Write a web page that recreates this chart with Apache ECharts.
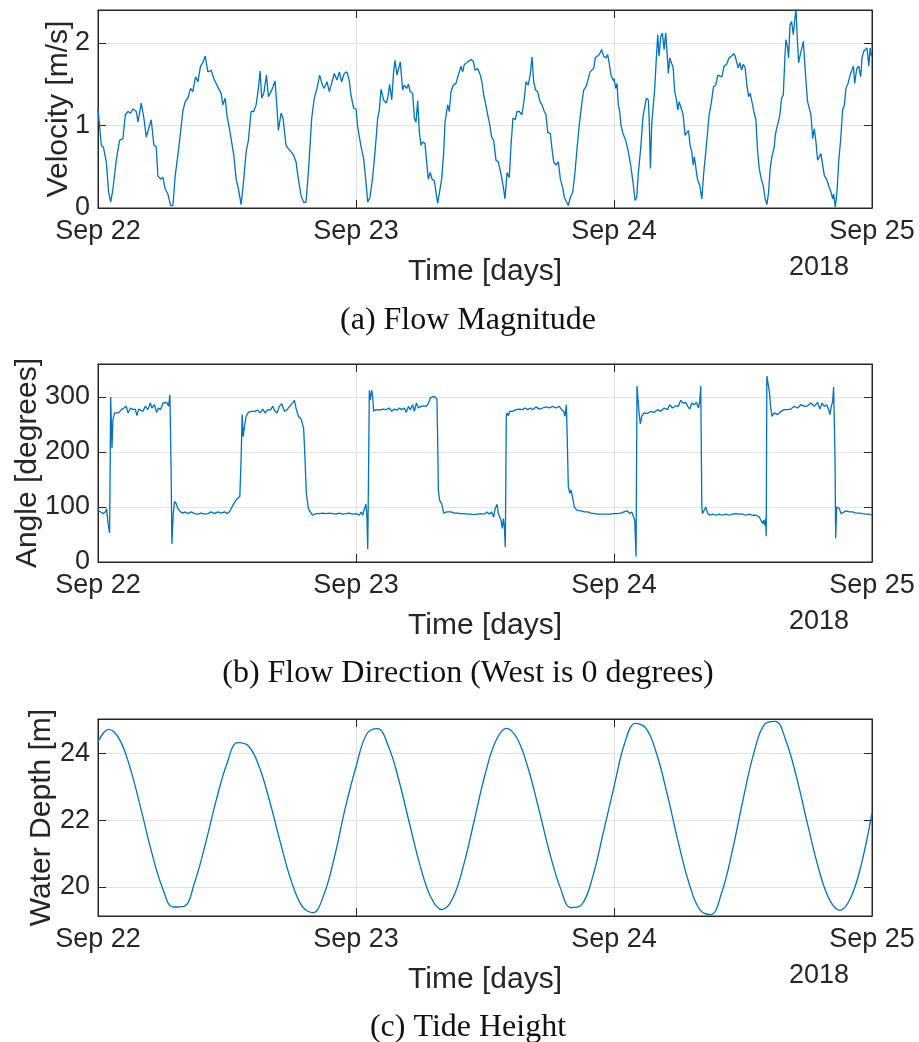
<!DOCTYPE html>
<html>
<head>
<meta charset="utf-8">
<script src="https://cdn.jsdelivr.net/npm/echarts@6/dist/echarts.min.js"></script>
<style>
  html, body { margin: 0; padding: 0; background: #fff; }
  #main { width: 919px; height: 1042px; }
</style>
</head>
<body>
<div id="main"></div>
<script>
// x values are hours after Sep 22 00:00, 2018
var dayLabels = ['Sep 22', 'Sep 23', 'Sep 24', 'Sep 25'];
var yearLabel = '2018';

// (a) flow magnitude [m/s], [hour, value]
var velSep22 = [[0,1.2],[0.31,0.76],[0.5,0.74],[0.77,0.56],[0.99,0.19],[1.18,0.07],[1.39,0.23],[1.7,0.58],[2.01,0.82],[2.32,0.84],[2.54,1.13],[2.79,1.17],[3.03,1.15],[3.25,1.2],[3.56,1.17],[3.72,1.04],[4.02,1.27],[4.27,1.09],[4.49,0.86],[4.71,0.96],[4.95,1.07],[5.2,0.76],[5.42,0.74],[5.57,0.39],[5.82,0.35],[6.04,0.37],[6.25,0.23],[6.5,0.17],[6.75,0.03],[6.97,0.03],[7.18,0.39],[7.43,0.64],[7.68,0.92],[7.89,1.17],[8.11,1.29],[8.36,1.33],[8.61,1.45],[8.82,1.41],[9.07,1.59],[9.29,1.53],[9.54,1.72],[9.75,1.76],[9.97,1.84],[10.22,1.65],[10.53,1.67],[10.77,1.57],[10.99,1.51],[11.21,1.45],[11.46,1.39],[11.61,1.25],[11.83,1.33],[12.01,1.11],[12.23,0.96],[12.38,0.84],[12.63,0.64],[12.85,0.35],[13.07,0.23],[13.31,0.04],[13.56,0.35],[13.78,0.68],[13.99,0.82],[14.24,1.17],[14.49,1.17],[14.71,1.25],[14.92,1.45],[15.08,1.66],[15.23,1.33],[15.42,1.39],[15.67,1.61],[15.85,1.35],[16.1,1.41],[16.28,1.47],[16.47,1.54],[16.63,1.25],[16.78,0.94],[17.03,1.15],[17.21,1.09],[17.49,0.76],[17.71,0.72],[17.96,0.68],[18.2,0.64],[18.42,0.56],[18.64,0.35],[18.89,0.15],[19.13,0.07],[19.35,0.07],[19.57,0.43],[19.88,1.09],[20.12,1.33],[20.37,1.45],[20.62,1.61],[20.87,1.49],[21.05,1.45],[21.3,1.53],[21.52,1.41],[21.73,1.51],[21.98,1.63],[22.23,1.55],[22.45,1.65],[22.66,1.53],[22.91,1.63],[23.16,1.65],[23.37,1.55],[23.53,1.37],[23.78,1.21]];
var velSep23 = [[24,1.2],[24.16,0.98],[24.31,0.96],[24.47,0.74],[24.71,0.6],[24.93,0.31],[25.09,0.07],[25.3,0.13],[25.55,0.37],[25.77,0.68],[26.02,1.09],[26.17,1.19],[26.33,1.44],[26.57,1.31],[26.79,1.27],[26.95,1.33],[27.13,1.5],[27.32,1.31],[27.5,1.65],[27.63,1.79],[27.81,1.61],[27.97,1.63],[28.12,1.77],[28.34,1.43],[28.5,1.49],[28.71,1.45],[28.87,1.5],[29.05,1.41],[29.27,1.39],[29.43,1.09],[29.58,1.04],[29.74,1.3],[29.89,0.92],[30.05,0.76],[30.2,0.8],[30.42,0.78],[30.6,0.52],[30.73,0.35],[30.91,0.43],[31.07,0.35],[31.29,0.33],[31.44,0.19],[31.6,0.06],[31.78,0.07],[31.97,0.35],[32.16,0.68],[32.28,1.04],[32.53,1.25],[32.68,1.17],[32.84,1.41],[33.05,1.49],[33.3,1.51],[33.52,1.61],[33.77,1.72],[33.92,1.65],[34.08,1.74],[34.29,1.76],[34.48,1.78],[34.7,1.8],[34.91,1.78],[35.07,1.67],[35.32,1.69],[35.57,1.61],[35.72,1.52],[35.88,1.37],[36.03,1.28],[36.25,1.13],[36.4,1.04],[36.62,0.86],[36.81,0.82],[37.02,0.58],[37.24,0.56],[37.49,0.41],[37.71,0.25],[37.86,0.11],[38.05,0.43],[38.26,0.37],[38.42,0.76],[38.6,1.09],[38.82,1.07],[38.98,1.17],[39.19,1.17],[39.44,1.13],[39.66,1.33],[39.81,1.53],[40.03,1.49],[40.22,1.63],[40.37,1.83],[40.53,1.53],[40.71,1.43],[40.9,1.41],[41.12,1.29],[41.3,1.25],[41.52,1.17],[41.67,1.13],[41.83,0.92],[42.08,0.9],[42.23,0.72],[42.39,0.56],[42.6,0.52],[42.82,0.56],[43.01,0.35],[43.22,0.25],[43.38,0.13],[43.6,0.07],[43.75,0.03],[43.94,0.13],[44.16,0.19],[44.37,0.43],[44.56,0.72],[44.78,1.02],[44.99,1.25],[45.18,1.43],[45.4,1.47],[45.55,1.54],[45.77,1.65],[45.92,1.63],[46.11,1.69],[46.26,1.82],[46.42,1.84],[46.64,1.86],[46.85,1.92],[47.04,1.84],[47.26,1.82],[47.41,1.86],[47.57,1.74],[47.72,1.61],[47.97,1.54]];
var velSep24 = [[48,1.57],[48.16,1.45],[48.28,1.51],[48.4,1.25],[48.53,1.17],[48.65,1],[48.84,0.9],[49.09,0.82],[49.34,0.68],[49.55,0.52],[49.77,0.31],[49.96,0.09],[50.11,0.13],[50.27,0.43],[50.48,0.72],[50.7,1.11],[50.86,1.13],[51.01,1.33],[51.2,1.31],[51.29,1],[51.39,0.48],[51.51,1.02],[51.63,1],[51.79,1.45],[51.94,1.82],[52.07,2.1],[52.19,1.84],[52.35,2.08],[52.5,2.12],[52.66,1.92],[52.81,2.12],[52.97,1.82],[53.06,1.63],[53.19,1.82],[53.37,1.84],[53.5,1.7],[53.65,1.41],[53.81,1.31],[53.93,1.19],[54.06,1.29],[54.24,1.29],[54.43,1.13],[54.61,0.88],[54.77,0.9],[54.93,0.94],[55.08,0.76],[55.24,0.68],[55.36,0.52],[55.48,0.62],[55.61,0.62],[55.76,0.35],[55.98,0.27],[56.17,0.11],[56.35,0.43],[56.54,0.68],[56.7,0.68],[56.85,1.13],[57.07,1.29],[57.25,1.47],[57.47,1.49],[57.66,1.61],[57.84,1.59],[58.03,1.59],[58.25,1.72],[58.47,1.74],[58.71,1.82],[58.93,1.84],[59.12,1.87],[59.27,1.84],[59.4,1.86],[59.55,1.7],[59.71,1.76],[59.86,1.67],[60.02,1.74],[60.2,1.7],[60.36,1.49],[60.52,1.35],[60.67,1.39],[60.83,1.29],[61.01,1.17],[61.2,1.07],[61.35,0.7],[61.51,0.48],[61.7,0.35],[61.88,0.27],[62.07,0.11],[62.22,0.04],[62.38,0.19],[62.53,0.48],[62.69,0.62],[62.91,0.74],[63,0.88],[63.12,0.96],[63.28,1.04],[63.43,1.13],[63.59,1.33],[63.75,1.37],[63.9,1.84],[63.99,2.04],[64.15,1.94],[64.24,1.82],[64.37,2.22],[64.52,2.26],[64.68,2.1],[64.83,2.3],[64.93,2.41],[65.05,2.06],[65.17,1.76],[65.3,1.84],[65.45,1.86],[65.61,2.02],[65.73,1.78],[65.86,1.53],[66.01,1.29],[66.17,1.29],[66.32,1.13],[66.48,0.84],[66.63,0.96],[66.79,0.8],[66.94,0.58],[67.1,0.62],[67.25,0.66],[67.41,0.52],[67.57,0.39],[67.78,0.35],[67.97,0.27],[68.19,0.19],[68.34,0.11],[68.43,0.17],[68.59,0.01],[68.75,0.21],[68.9,0.56],[69.09,0.84],[69.27,1.19],[69.43,1.25],[69.58,1.45],[69.77,1.51],[69.96,1.61],[70.14,1.59],[70.27,1.72],[70.39,1.51],[70.58,1.69],[70.76,1.72],[70.95,1.59],[71.07,1.82],[71.23,1.9],[71.39,1.92],[71.54,1.94],[71.7,1.72],[71.83,1.94],[71.94,1.84],[72,1.88]];

// (b) flow direction [degrees], [hour, value]
var dirSep22 = [[0,94],[0.25,91],[0.46,88],[0.68,91],[0.8,97],[0.93,70],[1.08,53],[1.18,300],[1.3,207],[1.39,259],[1.55,271],[1.73,274],[1.92,271],[2.17,277],[2.41,280],[2.63,283],[2.79,271],[3.03,280],[3.25,277],[3.47,278],[3.62,266],[3.78,278],[3.96,280],[4.18,274],[4.4,283],[4.64,277],[4.86,289],[5.02,280],[5.26,286],[5.45,272],[5.63,280],[5.82,277],[6.04,289],[6.25,290],[6.44,289],[6.56,283],[6.69,304],[6.81,155],[6.87,33],[7,88],[7.12,110],[7.28,106],[7.43,97],[7.68,91],[7.89,89],[8.11,91],[8.36,88],[8.67,91],[8.98,88],[9.29,87],[9.6,89],[9.91,87],[10.22,88],[10.53,91],[10.84,88],[11.15,91],[11.46,89],[11.76,91],[12.07,88],[12.32,94],[12.54,103],[12.69,100],[12.85,113],[13,110],[13.19,119],[13.31,186],[13.41,268],[13.5,228],[13.62,246],[13.78,265],[13.99,272],[14.24,274],[14.55,274],[14.86,276],[15.08,271],[15.33,278],[15.54,271],[15.79,277],[16.04,276],[16.25,283],[16.47,274],[16.66,271],[16.87,283],[17.09,288],[17.34,274],[17.59,277],[17.83,283],[18.08,289],[18.27,294],[18.42,280],[18.64,265],[18.89,260],[19.13,243],[19.26,186],[19.38,125],[19.57,97],[19.75,91],[19.97,85],[20.28,88],[20.59,88],[20.9,89],[21.21,88],[21.52,89],[21.83,88],[22.14,87],[22.45,89],[22.76,87],[23.07,88],[23.37,89],[23.68,87]];
var dirSep23 = [[24,88],[24.16,91],[24.31,85],[24.47,91],[24.62,85],[24.78,97],[24.93,105],[25.02,82],[25.09,23],[25.18,186],[25.24,312],[25.33,295],[25.46,312],[25.55,301],[25.64,274],[25.86,277],[26.17,276],[26.48,278],[26.79,277],[27.1,280],[27.32,274],[27.57,278],[27.81,276],[28.03,280],[28.25,277],[28.5,280],[28.68,272],[28.87,283],[29.05,277],[29.27,286],[29.43,274],[29.61,289],[29.8,280],[30.05,283],[30.29,284],[30.51,283],[30.73,288],[30.91,298],[31.13,301],[31.35,300],[31.53,296],[31.6,216],[31.66,131],[31.78,112],[31.97,106],[32.16,89],[32.47,91],[32.84,91],[33.15,89],[33.46,89],[33.77,88],[34.08,88],[34.39,87],[34.7,87],[35.01,86],[35.32,87],[35.63,88],[35.94,87],[36.19,91],[36.4,87],[36.62,91],[36.81,82],[36.93,96],[37.12,105],[37.24,88],[37.36,85],[37.49,76],[37.61,61],[37.71,79],[37.8,64],[37.89,27],[37.98,265],[38.05,271],[38.17,266],[38.29,274],[38.57,274],[38.88,277],[39.19,278],[39.5,277],[39.72,280],[39.97,277],[40.22,280],[40.43,277],[40.74,282],[41.05,278],[41.36,280],[41.67,282],[41.98,280],[42.29,283],[42.6,280],[42.91,283],[43.13,277],[43.32,274],[43.44,265],[43.57,286],[43.66,216],[43.75,137],[43.88,125],[44,131],[44.16,116],[44.31,100],[44.56,94],[44.93,93],[45.24,91],[45.55,91],[45.86,89],[46.17,88],[46.48,87],[46.79,87],[47.1,87],[47.41,87],[47.72,87],[47.97,88]];
var dirSep24 = [[48,87],[48.31,88],[48.62,89],[48.93,91],[49.24,93],[49.46,88],[49.65,91],[49.8,88],[49.93,76],[50.05,10],[50.14,320],[50.24,320],[50.33,271],[50.45,251],[50.58,265],[50.8,271],[51.11,270],[51.42,274],[51.73,272],[52.04,277],[52.35,274],[52.66,280],[52.97,277],[53.19,286],[53.43,280],[53.75,284],[53.99,283],[54.21,294],[54.43,289],[54.68,290],[54.86,283],[55.05,278],[55.24,289],[55.45,286],[55.67,290],[55.86,280],[55.98,292],[56.07,320],[56.17,100],[56.23,88],[56.39,91],[56.54,100],[56.7,89],[56.91,85],[57.16,87],[57.47,85],[57.78,87],[58.09,85],[58.4,87],[58.71,85],[59.02,87],[59.34,88],[59.65,87],[59.96,87],[60.27,85],[60.58,87],[60.89,85],[61.2,85],[61.51,82],[61.66,76],[61.82,70],[61.91,76],[62.01,67],[62.1,79],[62.16,47],[62.22,338],[62.32,326],[62.45,310],[62.57,283],[62.69,265],[62.91,271],[63.22,268],[63.53,274],[63.84,277],[64.15,277],[64.46,278],[64.77,283],[65.08,280],[65.39,286],[65.7,283],[66.01,284],[66.32,289],[66.63,283],[66.94,290],[67.16,278],[67.35,289],[67.56,283],[67.78,286],[67.97,277],[68.09,268],[68.22,283],[68.34,292],[68.43,318],[68.56,186],[68.62,43],[68.71,100],[68.84,103],[68.96,97],[69.12,88],[69.27,91],[69.58,93],[69.89,91],[70.2,91],[70.51,89],[70.82,89],[71.12,88],[71.43,87],[71.74,87],[72,85]];

// (c) water depth [m], one value per hour from Sep 22 00:00
var tideDepth = [24.35,24.72,24.42,23.55,22.33,21.03,19.97,19.40,19.42,20.15,21.30,22.60,23.70,24.32,24.22,23.60,22.53,21.29,20.16,19.42,19.23,19.76,20.90,22.36,23.60,24.58,24.74,24.23,23.18,21.87,20.60,19.67,19.32,19.66,20.64,21.99,23.36,24.37,24.75,24.44,23.57,22.34,21.04,19.98,19.38,19.47,20.28,21.62,23.00,24.31,24.90,24.74,23.95,22.71,21.31,20.09,19.31,19.17,19.81,21.07,22.61,24.00,24.87,24.96,24.37,23.26,21.89,20.59,19.65,19.30,19.66,20.67,22.21];

var captions = ['(a) Flow Magnitude', '(b) Flow Direction (West is 0 degrees)', '(c) Tide Height'];

var lineColor = '#0072BD';
var axisColor = '#262626';
var gridColor = '#e2e2e2';
var sans = 'Liberation Sans, Arial, sans-serif';

var panels = [
    { top: 10, height: 198, yMin: 0, yMax: 2.4, yInterval: 1, yName: 'Velocity [m/s]', nameGap: 24 },
    { top: 364, height: 198, yMin: 0, yMax: 360, yInterval: 100, yName: 'Angle [degrees]', nameGap: 55 },
    { top: 719, height: 197, yMin: 19.13, yMax: 25.03, yInterval: null, yName: 'Water Depth [m]', nameGap: 41 }
];

var tidePoints = tideDepth.map(function(v, i) { return [i, v]; });
var seriesData = [
    velSep22.concat(velSep23, velSep24),
    dirSep22.concat(dirSep23, dirSep24),
    tidePoints
];

var grids = [], xAxes = [], yAxes = [], series = [], graphics = [];
var capY = [321, 674, 1028];

// matlab style: ticks point into the box on all four sides
var tickStyle = { show: true, inside: true, length: 8, lineStyle: { color: axisColor, width: 1 } };
var lineStyleAx = { show: true, onZero: false, lineStyle: { color: axisColor, width: 1 } };

panels.forEach(function(p, i) {
    grids.push({ left: 98, right: 47, top: p.top, height: p.height, show: true,
        borderColor: axisColor, borderWidth: 1, backgroundColor: '#fff' });

    xAxes.push({
        type: 'value', gridIndex: i, min: 0, max: 72, interval: 24, position: 'bottom',
        name: 'Time [days]', nameLocation: 'middle', nameGap: 49, nameMoveOverlap: false,
        nameTextStyle: { fontFamily: sans, fontSize: 30, color: axisColor },
        axisLine: lineStyleAx,
        axisTick: tickStyle,
        axisLabel: { fontFamily: sans, fontSize: 27, color: axisColor, margin: 10,
            formatter: function(v) { return dayLabels[Math.round(v / 24)]; } },
        splitLine: { show: true, lineStyle: { color: gridColor, width: 1 } }
    });
    xAxes.push({
        type: 'value', gridIndex: i, min: 0, max: 72, interval: 24, position: 'top',
        axisLine: lineStyleAx,
        axisTick: tickStyle,
        axisLabel: { show: false }, splitLine: { show: false }
    });

    var yMain = {
        type: 'value', gridIndex: i, min: p.yMin, max: p.yMax, position: 'left',
        name: p.yName, nameLocation: 'middle', nameGap: p.nameGap, nameMoveOverlap: false,
        nameTextStyle: { fontFamily: sans, fontSize: 30, color: axisColor },
        axisLine: lineStyleAx,
        axisTick: tickStyle,
        axisLabel: { fontFamily: sans, fontSize: 27, color: axisColor, margin: 8,
            showMaxLabel: false, showMinLabel: p.yInterval !== null },
        splitLine: { show: true, lineStyle: { color: gridColor, width: 1 } }
    };
    var ySide = {
        type: 'value', gridIndex: i, min: p.yMin, max: p.yMax, position: 'right',
        axisLine: lineStyleAx,
        axisTick: tickStyle,
        axisLabel: { show: false }, splitLine: { show: false }
    };
    if (p.yInterval !== null) {
        yMain.interval = p.yInterval;
        ySide.interval = p.yInterval;
    } else {
        yMain.splitNumber = 3;
        ySide.splitNumber = 3;
    }
    yAxes.push(yMain, ySide);

    series.push({
        type: 'line', xAxisIndex: 2 * i, yAxisIndex: 2 * i, data: seriesData[i],
        showSymbol: false, smooth: i === 2 ? 0.4 : false, clip: true,
        lineStyle: { color: lineColor, width: 1.3 }, itemStyle: { color: lineColor }
    });

    var axisBottom = p.top + p.height;
    graphics.push({
        type: 'text', left: 817 - 28, top: axisBottom + 46,
        style: { text: yearLabel, font: '27px ' + sans, fill: axisColor }
    });
    graphics.push({
        type: 'text', x: 468, y: capY[i],
        style: { text: captions[i], font: '32px "Liberation Serif", "Times New Roman", serif',
            fill: '#111', textAlign: 'center', textVerticalAlign: 'middle' }
    });
});

var myChart = echarts.init(document.getElementById('main'), null, { renderer: 'canvas' });
var option = {
    animation: false,
    backgroundColor: '#fff',
    grid: grids,
    xAxis: xAxes,
    yAxis: yAxes,
    series: series,
    graphic: graphics
};
myChart.setOption(option, true);
</script>
</body>
</html>
